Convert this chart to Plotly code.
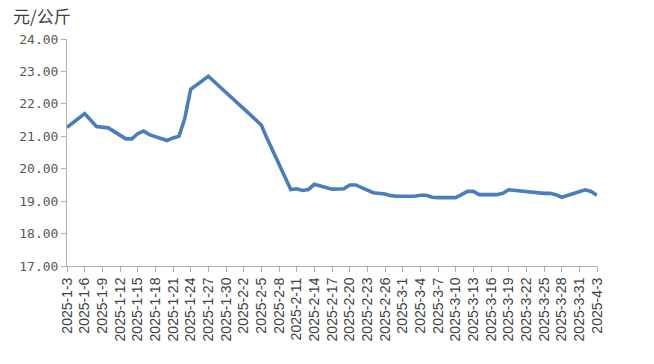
import plotly.graph_objects as go

dates = ["2025-01-03","2025-01-06","2025-01-08","2025-01-09","2025-01-10","2025-01-13","2025-01-14",
         "2025-01-15","2025-01-16","2025-01-17","2025-01-20","2025-01-21","2025-01-22","2025-01-23",
         "2025-01-24","2025-01-27","2025-02-05","2025-02-06","2025-02-07","2025-02-08","2025-02-10",
         "2025-02-11","2025-02-12","2025-02-13","2025-02-14","2025-02-17","2025-02-18","2025-02-19",
         "2025-02-20","2025-02-21","2025-02-24","2025-02-25","2025-02-26","2025-02-27","2025-02-28",
         "2025-03-03","2025-03-04","2025-03-05","2025-03-06","2025-03-07","2025-03-10","2025-03-11",
         "2025-03-12","2025-03-13","2025-03-14","2025-03-17","2025-03-18","2025-03-19","2025-03-20",
         "2025-03-21","2025-03-24","2025-03-25","2025-03-26","2025-03-27","2025-03-28","2025-03-31",
         "2025-04-01","2025-04-02","2025-04-03"]
prices = [21.28,21.70,21.30,21.28,21.26,20.92,20.92,
          21.08,21.16,21.05,20.87,20.95,21.00,21.55,
          22.45,22.85,21.35,20.92,20.52,20.14,19.36,
          19.38,19.33,19.36,19.52,19.37,19.37,19.38,
          19.50,19.50,19.26,19.24,19.22,19.17,19.15,
          19.15,19.18,19.18,19.12,19.11,19.11,19.20,
          19.30,19.30,19.20,19.20,19.24,19.35,19.33,
          19.32,19.25,19.24,19.24,19.20,19.12,19.30,
          19.35,19.30,19.18]
unit_label = "元/公斤"

fig = go.Figure()
fig.add_trace(go.Scatter(x=dates, y=prices, mode="lines",
                         line=dict(color="#4a7ebb", width=3.6), showlegend=False))

fig.update_layout(
    width=654, height=364,
    margin=dict(l=67, r=57, t=39, b=98, autoexpand=False),
    paper_bgcolor="white", plot_bgcolor="white",
    xaxis=dict(type="date", range=["2025-01-03", "2025-04-03"], automargin=False,
               tick0="2025-01-03", dtick=3*86400000, tickformat="%Y-%-m-%-d",
               tickangle=-90, showgrid=False, zeroline=False,
               showline=True, linecolor="#b0b0b0", linewidth=1,
               ticks="outside", ticklen=5, tickcolor="#b0b0b0",
               tickfont=dict(family="Liberation Sans, Arial", size=14, color="#404040")),
    yaxis=dict(range=[17, 24], dtick=1, tickformat=".2f", automargin=False,
               showgrid=False, zeroline=False,
               showline=True, linecolor="#b0b0b0", linewidth=1,
               ticks="outside", ticklen=5, tickcolor="#b0b0b0",
               tickfont=dict(family="DejaVu Sans Mono", size=13, color="#595959")),
    annotations=[dict(text=unit_label, xref="paper", yref="paper", x=0, y=1,
                      xanchor="right", yanchor="middle", xshift=6, yshift=24,
                      showarrow=False,
                      font=dict(family="Noto Sans CJK SC", size=17, color="#404040"))],
)

fig.write_html("out.html", config={"displayModeBar": False},
               post_script="document.body.style.margin='0';")
